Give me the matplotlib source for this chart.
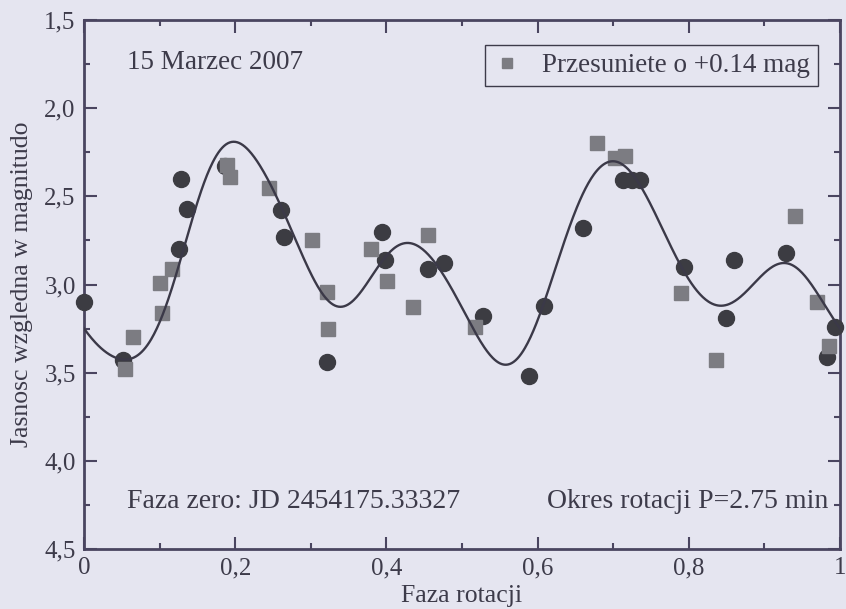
import numpy as np
import matplotlib
matplotlib.use("Agg")
import matplotlib.pyplot as plt

# ---- data ----
circle_phase = [0.000, 0.052, 0.125, 0.128, 0.136, 0.186, 0.260, 0.264, 0.322, 0.394,
                0.398, 0.455, 0.476, 0.528, 0.589, 0.609, 0.660, 0.713, 0.725, 0.736,
                0.794, 0.849, 0.860, 0.928, 0.983, 0.994]
circle_mag = [3.10, 3.43, 2.80, 2.40, 2.57, 2.33, 2.58, 2.73, 3.44, 2.70,
              2.86, 2.91, 2.88, 3.18, 3.52, 3.12, 2.68, 2.41, 2.41, 2.41,
              2.90, 3.19, 2.86, 2.82, 3.41, 3.24]

square_phase = [0.054, 0.065, 0.100, 0.103, 0.117, 0.189, 0.193, 0.245, 0.301, 0.321,
                0.323, 0.379, 0.401, 0.435, 0.455, 0.517, 0.679, 0.702, 0.716, 0.790,
                0.836, 0.940, 0.970, 0.986]
square_mag = [3.48, 3.30, 2.99, 3.16, 2.91, 2.32, 2.39, 2.45, 2.75, 3.04,
              3.25, 2.80, 2.98, 3.13, 2.72, 3.24, 2.20, 2.28, 2.27, 3.05,
              3.43, 2.61, 3.10, 3.35]

# fitted light curve
curve_phase = [0.000, 0.020, 0.045, 0.065, 0.083, 0.110, 0.127, 0.141, 0.158, 0.176,
               0.194, 0.216, 0.237, 0.260, 0.277, 0.296, 0.313, 0.330, 0.353, 0.375,
               0.397, 0.415, 0.430, 0.450, 0.468, 0.485, 0.503, 0.521, 0.538, 0.556,
               0.578, 0.596, 0.609, 0.627, 0.647, 0.665, 0.683, 0.698, 0.718, 0.735,
               0.753, 0.771, 0.789, 0.806, 0.824, 0.837, 0.858, 0.885, 0.907, 0.925,
               0.947, 0.970, 0.991, 1.000]
curve_mag = [3.27, 3.36, 3.43, 3.39, 3.34, 3.13, 2.88, 2.65, 2.41, 2.26,
             2.21, 2.24, 2.35, 2.54, 2.72, 2.90, 3.05, 3.12, 3.09, 2.98,
             2.86, 2.79, 2.77, 2.80, 2.88, 3.02, 3.17, 3.30, 3.40, 3.45,
             3.39, 3.24, 3.11, 2.88, 2.60, 2.43, 2.34, 2.31, 2.34, 2.43,
             2.58, 2.73, 2.88, 3.02, 3.10, 3.12, 3.09, 2.99, 2.92, 2.89,
             2.92, 3.03, 3.19, 3.24]

xticks = [0, 0.2, 0.4, 0.6, 0.8, 1.0]
xtick_labels = ["0", "0,2", "0,4", "0,6", "0,8", "1"]
yticks = [1.5, 2.0, 2.5, 3.0, 3.5, 4.0, 4.5]
ytick_labels = ["1,5", "2,0", "2,5", "3,0", "3,5", "4,0", "4,5"]

# ---- style ----
BG = "#e5e5f0"
INK = "#3d3b4a"
SPINE = "#4a4560"
plt.rcParams['font.family'] = ['Liberation Serif', 'DejaVu Serif']

fig = plt.figure(figsize=(8.46, 6.09), dpi=100, facecolor=BG)
ax = fig.add_axes([84 / 846, 1 - 549 / 609, 756 / 846, 529 / 609], facecolor=BG)

# smooth periodic curve: harmonic least-squares through the sampled curve
cp = np.array(curve_phase)
cm = np.array(curve_mag)
order = 9
def design(p):
    cols = [np.ones_like(p)]
    for k in range(1, order + 1):
        cols.append(np.cos(2 * np.pi * k * p))
        cols.append(np.sin(2 * np.pi * k * p))
    return np.column_stack(cols)
coef, *_ = np.linalg.lstsq(design(cp), cm, rcond=None)
pf = np.linspace(0, 1, 800)
ax.plot(pf, design(pf) @ coef, color="#3b3948", lw=1.7, zorder=4)

ax.plot(circle_phase, circle_mag, 'o', ms=11.5, color="#3c3c42", mec="#3c3c42",
        zorder=3, clip_on=False)
ax.plot(square_phase, square_mag, 's', ms=9.5, color="#7c7c82", mec="#7c7c82",
        zorder=3.5, clip_on=False, label="Przesuniete o +0.14 mag")

ax.set_xlim(0, 1)
ax.set_ylim(4.5, 1.5)
ax.set_xticks(xticks)
ax.set_xticklabels(xtick_labels)
ax.set_yticks(yticks)
ax.set_yticklabels(ytick_labels)
ax.set_xticks(np.arange(0.1, 1.0, 0.2), minor=True)
ax.set_yticks(np.arange(1.75, 4.5, 0.5), minor=True)
ax.tick_params(which='both', direction='in', top=True, right=True, color=SPINE,
               labelcolor=INK, labelsize=18)
ax.tick_params(which='major', length=9, width=1.5)
ax.tick_params(which='minor', length=4.5, width=1.5)
ax.tick_params(axis='x', which='major', pad=6)
ax.tick_params(axis='y', which='major', pad=6)
for s in ax.spines.values():
    s.set_color(SPINE)
    s.set_linewidth(2.0)

ax.set_xlabel("Faza rotacji", fontsize=18.5, color=INK, labelpad=4)
ax.set_ylabel("Jasnosc wzgledna w magnitudo", fontsize=18.5, color=INK, labelpad=8)

ax.text(0.057, 0.92, "15 Marzec 2007", transform=ax.transAxes, fontsize=19.5,
        color=INK, va='center', ha='left')
ax.text(0.057, 0.09, "Faza zero: JD 2454175.33327", transform=ax.transAxes,
        fontsize=20, color=INK, va='center', ha='left')
ax.text(0.985, 0.09, "Okres rotacji P=2.75 min", transform=ax.transAxes,
        fontsize=20, color=INK, va='center', ha='right')

leg = ax.legend(loc='upper right', bbox_to_anchor=(0.971, 0.953), borderaxespad=0,
                fontsize=19.5, frameon=True, fancybox=False, handlelength=1.0,
                handletextpad=0.8, borderpad=0.3, markerscale=0.75)
leg.get_frame().set_facecolor(BG)
leg.get_frame().set_edgecolor(INK)
leg.get_frame().set_linewidth(1.0)
leg.get_frame().set_alpha(1)
for t in leg.get_texts():
    t.set_color(INK)

fig.savefig("out.png", dpi=100, facecolor=BG)
